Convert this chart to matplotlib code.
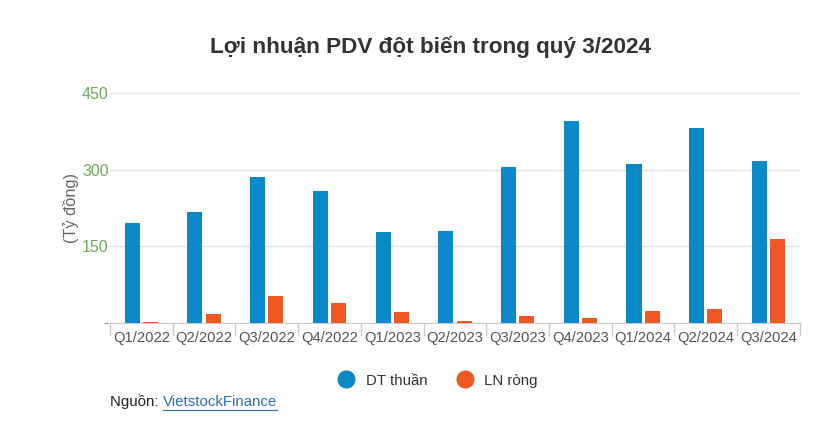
import matplotlib.pyplot as plt
import numpy as np

plt.rcParams['font.family'] = ['Liberation Sans', 'DejaVu Sans']

quarters = ['Q1/2022', 'Q2/2022', 'Q3/2022', 'Q4/2022', 'Q1/2023', 'Q2/2023',
            'Q3/2023', 'Q4/2023', 'Q1/2024', 'Q2/2024', 'Q3/2024']
dt_thuan = [196, 217, 286, 258, 178, 180, 305, 396, 312, 381, 317]
ln_rong = [2, 17, 53, 39, 21, 4, 14, 10, 24, 27, 164]
yticks = [0, 150, 300, 450]
ytick_labels = ['-', '150', '300', '450']

blue = '#0a88c8'
orange = '#ef5822'

fig = plt.figure(figsize=(8.35, 4.23), dpi=100)
ax = fig.add_axes([0.1317, 0.2364, 0.8263, 0.5437])

x = np.arange(len(quarters))
w = 0.24
ax.bar(x - w/2 - 0.025, dt_thuan, w, color=blue, label='DT thuần', zorder=3)
ax.bar(x + w/2 + 0.025, ln_rong, w, color=orange, label='LN ròng', zorder=3)

ax.set_xlim(-0.5, len(quarters) - 0.5)
ax.set_ylim(0, 450)
ax.set_yticks(yticks)
ax.set_yticklabels(ytick_labels, color='#6fa95a', fontsize=11.5)
ax.tick_params(axis='y', length=0, pad=1)
ax.yaxis.grid(True, color='#e3e3e3', linewidth=1, zorder=0)

ax.set_xticks(x)
ax.set_xticklabels(quarters, color='#555555', fontsize=10.6)
ax.set_xticks(np.arange(-0.5, len(quarters), 1), minor=True)
ax.tick_params(axis='x', which='major', length=0, pad=6)
ax.tick_params(axis='x', which='minor', length=9, color='#cccccc', width=1)

for s in ['top', 'right', 'left']:
    ax.spines[s].set_visible(False)
ax.spines['bottom'].set_color('#cccccc')

ax.set_ylabel('(Tỷ đồng)', color='#666666', fontsize=11.8, labelpad=2)

fig.text(0.515, 0.888, 'Lợi nhuận PDV đột biến trong quý 3/2024', ha='center', va='center',
         fontsize=16.2, fontweight='bold', color='#333333')

fig.legend(loc='center', bbox_to_anchor=(0.525, 0.1), ncol=2, frameon=False,
           fontsize=10.8, handlelength=1.0, handleheight=1.0, columnspacing=2.0,
           handles=[plt.Line2D([], [], marker='o', linestyle='', markersize=12, color=blue),
                    plt.Line2D([], [], marker='o', linestyle='', markersize=12, color=orange)],
           labels=['DT thuần', 'LN ròng'], labelcolor='#333333')

t1 = fig.text(0.132, 0.05, 'Nguồn: ', ha='left', va='center', fontsize=10.8, color='#222222')
fig.canvas.draw()
bb = t1.get_window_extent()
t2 = fig.text(bb.x1 / fig.bbox.width, 0.05, 'VietstockFinance', ha='left', va='center',
              fontsize=10.8, color='#2a6fb8', url='https://finance.vietstock.vn')
fig.canvas.draw()
bb2 = t2.get_window_extent()
fig.lines.append(plt.Line2D([bb2.x0 / fig.bbox.width, bb2.x1 / fig.bbox.width], [0.03, 0.03],
                            transform=fig.transFigure, color='#2a6fb8', linewidth=0.8))

fig.savefig('out.png', dpi=100)
